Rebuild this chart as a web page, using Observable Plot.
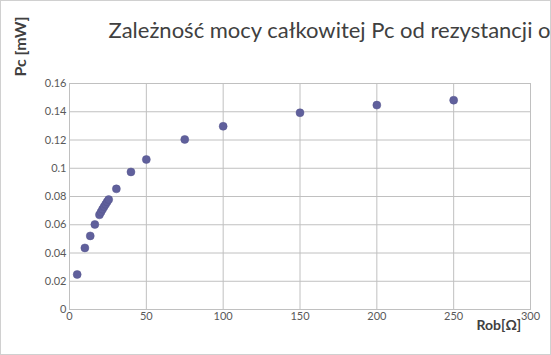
<!DOCTYPE html>
<html>
<head>
<meta charset="utf-8">
<script src="https://cdn.jsdelivr.net/npm/d3@7"></script>
<script src="https://cdn.jsdelivr.net/npm/@observablehq/plot@0.6"></script>
<style>
  html, body { margin: 0; padding: 0; background: #fff; }
  #chart { width: 551px; height: 355px; overflow: hidden; position: relative; }
  #chart svg { outline: 1px solid #d0d0d0; outline-offset: -1px; }
</style>
</head>
<body>
<div id="chart"></div>
<script>
const titleText = "Zależność mocy całkowitej Pc od rezystancji obciążenia";
const yLabel = "Pc [mW]";
const xLabel = "Rob[Ω]";
const rob = [5, 10, 13.5, 16.5, 19.5, 20.5, 21.5, 22.5, 23.5, 24.5, 25.5, 30.5, 40, 50, 75, 100, 150, 200, 250];
const pc = [0.0248, 0.0436, 0.0521, 0.0602, 0.0670, 0.0690, 0.0710, 0.0728, 0.0745, 0.0762, 0.0778, 0.0854, 0.0974, 0.1062, 0.1204, 0.1297, 0.1393, 0.1447, 0.1482];
const xTicks = [0, 50, 100, 150, 200, 250, 300];
const yTicks = [0, 0.02, 0.04, 0.06, 0.08, 0.1, 0.12, 0.14, 0.16];

const data = rob.map((r, i) => ({r, p: pc[i]}));
const gridColor = "#c0c0c0";
const font = "Lato, 'Open Sans', sans-serif";

const chart = Plot.plot({
  width: 551,
  height: 355,
  marginLeft: 69,
  marginRight: 21,
  marginTop: 83,
  marginBottom: 46,
  style: {fontFamily: font, fontSize: "11px", color: "#595959", background: "#fff", overflow: "hidden"},
  x: {domain: [0, 300], ticks: xTicks, tickSize: 0, tickPadding: 3, label: null, tickFormat: d => String(d)},
  y: {domain: [0, 0.16], ticks: yTicks, tickSize: 0, tickPadding: 3, label: null, tickFormat: d => String(d)},
  marks: [
    Plot.gridX(xTicks, {stroke: gridColor, strokeOpacity: 1}),
    Plot.gridY(yTicks, {stroke: gridColor, strokeOpacity: 1}),
    Plot.frame({stroke: gridColor}),
    Plot.axisX(xTicks, {tickSize: 0, tickPadding: 3, fill: "#595959", fontSize: 11, tickFormat: d => String(d), label: null}),
    Plot.axisY(yTicks, {tickSize: 0, tickPadding: 3, fill: "#595959", fontSize: 11, tickFormat: d => String(d), label: null}),
    Plot.dot(data, {x: "r", y: "p", r: 4, fill: "#60609c", stroke: "#56568f", strokeWidth: 0.5}),
    Plot.text([titleText], {frameAnchor: "top-left", dx: 39, dy: -61, text: d => d, fontSize: 22, fill: "#404040", textAnchor: "start", lineAnchor: "top", fontFamily: font}),
    Plot.text([yLabel], {frameAnchor: "top-left", dx: -49, dy: -37, rotate: -90, text: d => d, fontSize: 16, fontWeight: "bold", fill: "#404040", textAnchor: "middle", lineAnchor: "middle", fontFamily: font}),
    Plot.text([xLabel], {frameAnchor: "bottom-right", dx: -54, dy: 16, text: d => d, fontSize: 14, fontWeight: "bold", fill: "#404040", textAnchor: "start", lineAnchor: "middle", fontFamily: font})
  ]
});
document.getElementById("chart").appendChild(chart);
</script>
</body>
</html>
